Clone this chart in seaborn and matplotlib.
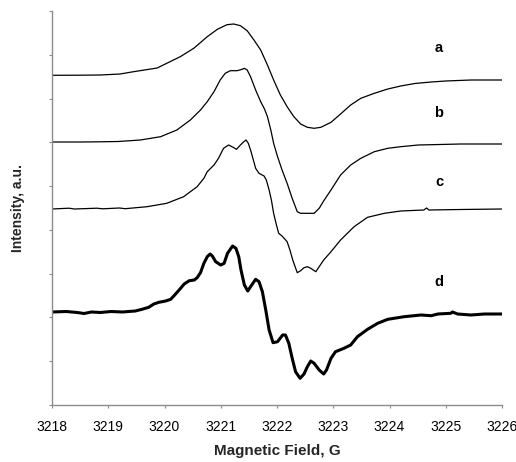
import matplotlib
matplotlib.use("Agg")
import matplotlib.pyplot as plt
import seaborn as sns
import pandas as pd
from matplotlib.ticker import MultipleLocator

# ---- data (field in G, intensity in arbitrary units) ----
field_a = [3218.00, 3218.50, 3218.86, 3219.21, 3219.45, 3219.87, 3220.04, 3220.28,
           3220.52, 3220.76, 3220.94, 3221.11, 3221.23, 3221.35, 3221.47, 3221.59,
           3221.71, 3221.83, 3221.94, 3222.06, 3222.18, 3222.30, 3222.42, 3222.54,
           3222.66, 3222.78, 3222.96, 3223.13, 3223.31, 3223.49, 3223.73, 3223.97,
           3224.20, 3224.45, 3224.74, 3225.00, 3225.45, 3226.00]
int_a = [329.7, 329.8, 330.0, 331.0, 333.3, 337.0, 341.7, 348.3,
         356.7, 368.3, 375.7, 380.3, 381.0, 379.3, 374.3, 365.0,
         355.0, 340.0, 325.0, 310.0, 298.3, 288.3, 281.0, 277.7,
         276.7, 277.7, 282.7, 291.0, 300.0, 306.7, 311.7, 316.0,
         319.0, 321.5, 323.0, 324.0, 325.0, 325.0]

field_b = [3218.00, 3218.50, 3218.86, 3219.18, 3219.57, 3219.93, 3220.22, 3220.46,
           3220.64, 3220.76, 3220.88, 3220.99, 3221.08, 3221.17, 3221.29, 3221.38,
           3221.42, 3221.47, 3221.53, 3221.62, 3221.71, 3221.78, 3221.83, 3221.89,
           3221.94, 3222.01, 3222.09, 3222.18, 3222.27, 3222.36, 3222.42, 3222.66,
           3222.75, 3222.84, 3222.96, 3223.13, 3223.31, 3223.49, 3223.73, 3223.97,
           3224.20, 3224.51, 3225.27, 3226.00]
int_b = [263.0, 263.0, 263.2, 263.5, 265.0, 268.3, 275.0, 285.0,
         295.0, 303.3, 313.3, 325.0, 331.7, 334.3, 334.3, 335.7,
         336.7, 335.0, 328.3, 315.0, 303.3, 295.7, 288.3, 275.0,
         261.7, 248.3, 235.0, 221.7, 206.7, 193.3, 191.7, 191.7,
         196.7, 205.0, 215.0, 230.0, 240.0, 246.7, 253.3, 256.7,
         258.3, 260.0, 261.0, 261.0]

field_c = [3218.00, 3218.30, 3218.40, 3218.80, 3218.90, 3219.20, 3219.30, 3219.69,
           3220.04, 3220.34, 3220.58, 3220.70, 3220.76, 3220.88, 3220.96, 3221.05,
           3221.14, 3221.22, 3221.28, 3221.35, 3221.41, 3221.45, 3221.49, 3221.53,
           3221.58, 3221.62, 3221.68, 3221.77, 3221.81, 3221.86, 3221.90, 3221.94,
           3221.99, 3222.03, 3222.09, 3222.18, 3222.23, 3222.28, 3222.36, 3222.42,
           3222.48, 3222.54, 3222.60, 3222.69, 3222.75, 3222.83, 3222.96, 3223.13,
           3223.37, 3223.61, 3223.91, 3224.20, 3224.61, 3224.66, 3224.70, 3225.27,
           3226.00]
int_c = [196.0, 196.8, 196.0, 196.8, 196.2, 197.0, 196.3, 198.3,
         201.7, 208.3, 218.3, 226.7, 233.3, 240.0, 246.7, 256.7,
         260.0, 257.7, 255.7, 260.0, 263.3, 265.0, 261.7, 255.0,
         245.0, 236.7, 231.7, 229.0, 225.0, 215.0, 205.0, 191.7,
         180.0, 171.7, 169.0, 163.3, 155.0, 145.0, 132.3, 134.3,
         137.3, 138.3, 136.7, 133.3, 138.3, 145.0, 153.3, 165.0,
         178.3, 187.7, 191.7, 194.0, 195.0, 197.0, 195.0, 195.5,
         196.0]

field_d = [3218.00, 3218.25, 3218.45, 3218.57, 3218.70, 3218.86, 3219.05, 3219.25,
           3219.48, 3219.60, 3219.72, 3219.81, 3219.90, 3220.02, 3220.11, 3220.17,
           3220.26, 3220.35, 3220.44, 3220.53, 3220.58, 3220.64, 3220.70, 3220.76,
           3220.81, 3220.85, 3220.91, 3221.00, 3221.06, 3221.12, 3221.21, 3221.27,
           3221.32, 3221.36, 3221.42, 3221.48, 3221.53, 3221.62, 3221.68, 3221.74,
           3221.80, 3221.86, 3221.93, 3222.01, 3222.10, 3222.15, 3222.21, 3222.27,
           3222.33, 3222.41, 3222.48, 3222.54, 3222.60, 3222.66, 3222.75, 3222.83,
           3222.88, 3222.96, 3223.04, 3223.19, 3223.31, 3223.43, 3223.61, 3223.79,
           3223.97, 3224.26, 3224.56, 3224.74, 3224.86, 3225.09, 3225.12, 3225.21,
           3225.45, 3225.69, 3226.00]
int_d = [93.0, 93.5, 92.5, 91.5, 93.0, 92.5, 93.5, 93.0,
         94.0, 95.7, 97.7, 101.0, 102.7, 104.0, 105.7, 109.3,
         115.0, 121.0, 124.3, 125.0, 127.3, 132.3, 141.7, 148.3,
         151.0, 149.0, 143.3, 140.0, 141.7, 151.7, 159.0, 156.7,
         148.3, 135.0, 120.0, 114.0, 118.3, 125.7, 123.3, 113.3,
         95.0, 75.0, 62.3, 63.3, 70.0, 70.0, 61.7, 46.7,
         33.3, 26.7, 31.0, 38.3, 44.0, 41.7, 35.0, 31.0,
         35.0, 46.7, 53.3, 56.7, 60.0, 68.3, 75.7, 81.7,
         85.7, 88.3, 90.0, 89.3, 91.0, 91.7, 93.0, 91.0,
         90.0, 91.0, 91.0]

labels = ["a", "b", "c", "d"]
label_field = [3224.88, 3224.88, 3224.88, 3224.88]
label_int = [357, 292, 223, 123]

x_ticks = [3218, 3219, 3220, 3221, 3222, 3223, 3224, 3225, 3226]

# ---- style ----
sns.set_style("white")
plt.rcParams["font.family"] = ["Liberation Sans", "DejaVu Sans"]

fig = plt.figure(figsize=(5.16, 4.62), dpi=100)
ax = fig.add_axes([52 / 516, 1 - 405 / 462, 450 / 516, 394 / 462])

traces = [(field_a, int_a, 0.9), (field_b, int_b, 0.9),
          (field_c, int_c, 0.9), (field_d, int_d, 2.2)]
for fx, fy, lw in traces:
    df = pd.DataFrame({"field": fx, "intensity": fy})
    sns.lineplot(data=df, x="field", y="intensity", ax=ax, color="black",
                 linewidth=lw, sort=False, estimator=None,
                 solid_joinstyle="round", solid_capstyle="round")

for lab, lx, ly in zip(labels, label_field, label_int):
    ax.text(lx, ly, lab, ha="center", va="center", fontsize=10.5,
            fontweight="bold", color="black")

ax.set_xlim(3218, 3226)
ax.set_ylim(0, 394)
ax.set_xticks(x_ticks)
ax.set_xticklabels([str(t) for t in x_ticks])
ax.yaxis.set_major_locator(MultipleLocator(394 / 9))
ax.set_yticklabels([])

for side in ["top", "right"]:
    ax.spines[side].set_visible(False)
for side in ["left", "bottom"]:
    ax.spines[side].set_color("#8c8c8c")
    ax.spines[side].set_linewidth(1.0)

ax.tick_params(axis="x", direction="out", length=2, width=0.8, color="#8c8c8c",
               labelsize=10, pad=9, labelcolor="black", bottom=True)
ax.tick_params(axis="y", direction="out", length=2, width=0.8, color="#8c8c8c",
               left=True)

ax.set_xlabel("Magnetic Field, G", fontsize=11, fontweight="bold")
ax.set_ylabel("Intensity, a.u.", fontsize=10, fontweight="bold")
ax.xaxis.set_label_coords(0.5, -(444 - 405) / 394)
ax.yaxis.set_label_coords(-(52 - 25) / 450, 0.5)

fig.savefig("out.png", dpi=100)
